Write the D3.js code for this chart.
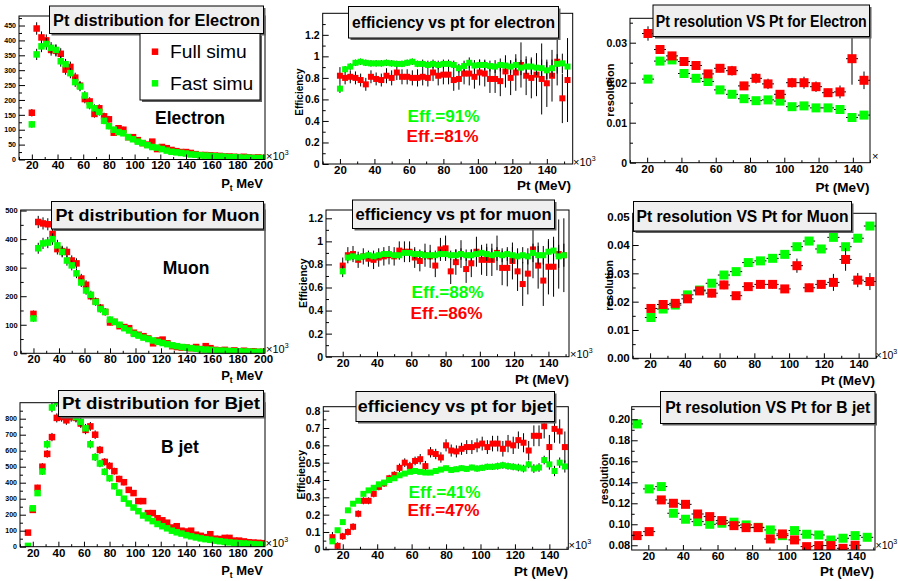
<!DOCTYPE html>
<html>
<head>
<meta charset="utf-8">
<script src="https://cdn.jsdelivr.net/npm/d3@7"></script>
<style>
  body { margin: 0; background: #fff; }
  svg { display: block; }
</style>
</head>
<body>
<div id="chart"></div>
<script>
// bin centres (x10^3 MeV)
var distCenters = d3.range(50).map(function(i) { return 16.25 + 3.75 * i; });
var effCenters = d3.range(47).map(function(i) { return 14 + 3 * i; });
var resCenters = d3.range(20).map(function(i) { return 13.5 + 7 * i; });

// Pt distributions (entries)
var elecDistFull = [157, 440, 410, 400, 368, 365, 355, 302, 311, 275, 248, 203, 195, 153, 172, 145, 135, 90, 105, 100,
  75, 75, 65, 55, 50, 60, 35, 42, 38, 32, 28, 25, 25, 22, 18, 15, 15, 14, 13, 12, 10, 10, 9, 8, 9, 7, 6, 7, 5];
var elecDistFast = [118, 353, 380, 388, 375, 368, 330, 320, 290, 260, 245, 215, 182, 172, 160, 130, 112, 100, 92, 88,
  75, 68, 60, 55, 48, 42, 40, 35, 30, 26, 24, 22, 20, 17, 16, 14, 13, 12, 11, 10, 9, 8, 8, 7, 6, 6, 5, 5, 5];
var muonDistFull = [138, 460, 455, 452, 418, 365, 358, 355, 325, 315, 262, 240, 200, 182, 160, 145, 108, 110, 95, 92,
  88, 72, 65, 60, 52, 35, 45, 48, 35, 25, 22, 20, 20, 18, 22, 15, 25, 18, 12, 10, 12, 8, 10, 7, 9, 6, 7, 5, 5];
var muonDistFast = [122, 368, 385, 388, 400, 378, 355, 325, 308, 280, 248, 220, 205, 180, 155, 145, 118, 110, 100, 88,
  80, 68, 62, 55, 50, 45, 40, 36, 32, 28, 25, 22, 20, 18, 16, 14, 13, 12, 10, 9, 9, 8, 7, 7, 6, 6, 5, 5, 5];
var bjetDistFull = [88, 230, 368, 500, 580, 685, 805, 810, 790, 810, 805, 770, 730, 752, 700, 605, 530, 505, 472, 423,
  403, 355, 335, 285, 285, 210, 210, 178, 165, 150, 120, 128, 100, 95, 100, 75, 68, 60, 78, 50,
  48, 55, 55, 38, 38, 33, 28, 26, 24, 22];
var bjetDistFast = [5, 240, 335, 470, 640, 870, 905, 880, 860, 840, 810, 780, 740, 640, 560, 520, 468, 428, 378, 338,
  300, 270, 245, 222, 195, 178, 160, 142, 128, 115, 100, 90, 82, 72, 65, 58, 52, 47, 43, 38,
  34, 30, 27, 24, 22, 20, 18, 16, 14, 12];

// efficiency vs pt
var elecEffFull = [0.82, 0.80, 0.81, 0.80, 0.78, 0.74, 0.81, 0.79, 0.78, 0.82, 0.80, 0.85, 0.81, 0.81, 0.80, 0.80,
  0.81, 0.80, 0.85, 0.82, 0.83, 0.83, 0.78, 0.79, 0.84, 0.84, 0.81, 0.85, 0.84, 0.79, 0.79, 0.77, 0.86, 0.80,
  0.85, 0.92, 0.82, 0.80, 0.83, 0.79, 0.75, 0.82, 0.95, 0.61, 0.78];
var elecEffFast = [0.70, 0.88, 0.905, 0.94, 0.95, 0.94, 0.935, 0.935, 0.935, 0.94, 0.935, 0.93, 0.93, 0.94, 0.95,
  0.93, 0.93, 0.92, 0.93, 0.92, 0.93, 0.93, 0.92, 0.89, 0.91, 0.94, 0.915, 0.92, 0.92, 0.91, 0.905, 0.92, 0.915,
  0.905, 0.92, 0.895, 0.905, 0.905, 0.895, 0.89, 0.87, 0.89, 0.93, 0.935, 0.905];
var elecEffFullErr = [0.08, 0.06, 0.06, 0.06, 0.06, 0.06, 0.06, 0.06, 0.06, 0.07, 0.07, 0.07, 0.07, 0.07, 0.07, 0.08,
  0.08, 0.08, 0.08, 0.09, 0.09, 0.09, 0.10, 0.10, 0.10, 0.11, 0.11, 0.12, 0.12, 0.13, 0.13, 0.14, 0.15, 0.16,
  0.17, 0.21, 0.18, 0.19, 0.20, 0.33, 0.22, 0.24, 0.22, 0.23, 0.39];
var elecEffFastErr = [0.04, 0.03, 0.03, 0.03, 0.03, 0.03, 0.03, 0.03, 0.03, 0.03, 0.03, 0.03, 0.03, 0.03, 0.03, 0.03,
  0.04, 0.04, 0.04, 0.04, 0.04, 0.04, 0.04, 0.04, 0.05, 0.05, 0.05, 0.05, 0.05, 0.05, 0.06, 0.06, 0.06, 0.06,
  0.06, 0.07, 0.07, 0.07, 0.07, 0.08, 0.08, 0.08, 0.09, 0.09, 0.10];
var muonEffFull = [0.79, 0.88, 0.89, 0.84, 0.87, 0.85, 0.84, 0.86, 0.87, 0.88, 0.87, 0.92, 0.91, 0.91, 0.86, 0.83,
  0.88, 0.87, 0.79, 0.93, 0.94, 0.74, 0.82, 0.89, 0.76, 0.81, 0.91, 0.84, 0.84, 0.84, 0.90, 0.77, 0.77, 0.83,
  0.74, 0.63, 0.72, 0.93, 0.79, 0.66, 0.78, 0.78, 0.89, 0.88];
var muonEffFast = [0.74, 0.86, 0.87, 0.86, 0.87, 0.88, 0.87, 0.88, 0.89, 0.89, 0.88, 0.88, 0.90, 0.90, 0.89, 0.89,
  0.88, 0.88, 0.88, 0.89, 0.89, 0.88, 0.88, 0.89, 0.88, 0.88, 0.89, 0.90, 0.89, 0.88, 0.89, 0.88, 0.89, 0.88,
  0.87, 0.88, 0.87, 0.90, 0.88, 0.88, 0.91, 0.92, 0.87, 0.88];
var muonEffFullErr = [0.07, 0.07, 0.07, 0.07, 0.07, 0.07, 0.08, 0.08, 0.08, 0.08, 0.08, 0.08, 0.09, 0.09, 0.09, 0.09,
  0.10, 0.10, 0.10, 0.10, 0.11, 0.11, 0.11, 0.12, 0.12, 0.12, 0.13, 0.13, 0.14, 0.14, 0.15, 0.15, 0.16, 0.16,
  0.17, 0.19, 0.18, 0.25, 0.20, 0.22, 0.24, 0.26, 0.30, 0.32];
var muonEffFastErr = [0.05, 0.03, 0.03, 0.03, 0.03, 0.03, 0.03, 0.03, 0.03, 0.03, 0.03, 0.03, 0.03, 0.04, 0.04, 0.04,
  0.04, 0.04, 0.04, 0.04, 0.04, 0.04, 0.05, 0.05, 0.05, 0.05, 0.05, 0.05, 0.06, 0.06, 0.06, 0.06, 0.06, 0.07,
  0.07, 0.07, 0.07, 0.08, 0.08, 0.08, 0.09, 0.09, 0.10, 0.10];
var bjetEffFull = [0.07, 0.02, 0.075, 0.10, 0.13, 0.205, 0.28, 0.28, 0.32, 0.36, 0.38, 0.41, 0.43, 0.47, 0.50, 0.48,
  0.51, 0.52, 0.48, 0.56, 0.55, 0.53, 0.60, 0.57, 0.565, 0.58, 0.59, 0.59, 0.60, 0.61, 0.59, 0.61, 0.61, 0.58,
  0.61, 0.60, 0.63, 0.615, 0.57, 0.655, 0.655, 0.71, 0.59, 0.695, 0.68, 0.59];
var bjetEffFast = [0.046, 0.11, 0.157, 0.225, 0.263, 0.28, 0.32, 0.34, 0.355, 0.375, 0.385, 0.40, 0.41, 0.427, 0.437,
  0.447, 0.452, 0.447, 0.443, 0.443, 0.452, 0.46, 0.468, 0.458, 0.462, 0.468, 0.464, 0.472, 0.466, 0.47, 0.476,
  0.476, 0.48, 0.485, 0.48, 0.476, 0.472, 0.466, 0.49, 0.466, 0.472, 0.515, 0.49, 0.452, 0.50, 0.478];
var bjetEffFullErr = [0.03, 0.02, 0.02, 0.02, 0.02, 0.02, 0.02, 0.02, 0.02, 0.02, 0.02, 0.02, 0.02, 0.025, 0.025,
  0.025, 0.025, 0.03, 0.03, 0.03, 0.03, 0.03, 0.035, 0.035, 0.035, 0.035, 0.04, 0.04, 0.04, 0.04, 0.04, 0.045,
  0.045, 0.045, 0.05, 0.05, 0.05, 0.055, 0.055, 0.06, 0.06, 0.07, 0.07, 0.08, 0.07, 0.09];
var bjetEffFastErr = [0.01, 0.01, 0.01, 0.01, 0.01, 0.01, 0.01, 0.01, 0.01, 0.01, 0.01, 0.01, 0.012, 0.012, 0.012,
  0.012, 0.012, 0.012, 0.014, 0.014, 0.014, 0.014, 0.014, 0.016, 0.016, 0.016, 0.016, 0.016, 0.018, 0.018, 0.018,
  0.018, 0.02, 0.02, 0.02, 0.02, 0.022, 0.022, 0.022, 0.025, 0.025, 0.025, 0.03, 0.03, 0.03, 0.035];

// Pt resolution vs pt
var elecResFull = [0.0323, 0.0283, 0.0267, 0.0253, 0.0243, 0.0222, 0.0236, 0.023, 0.0192, 0.0211, 0.0197, 0.0171,
  0.020, 0.020, 0.019, 0.0175, 0.0177, 0.026, 0.0206];
var elecResFast = [0.0209, 0.0254, 0.0257, 0.0223, 0.0211, 0.0203, 0.0182, 0.0171, 0.016, 0.0155, 0.0157, 0.0154,
  0.014, 0.0142, 0.0137, 0.0137, 0.0133, 0.0113, 0.0119];
var elecResFullErr = [0.0018, 0.001, 0.001, 0.001, 0.001, 0.0008, 0.001, 0.0012, 0.001, 0.0013, 0.0013, 0.0008,
  0.0012, 0.0015, 0.0013, 0.001, 0.0016, 0.0065, 0.0022];
var elecResFastErr = [0.0004, 0.0005, 0.0005, 0.0004, 0.0004, 0.0004, 0.0004, 0.0004, 0.0004, 0.0004, 0.0004,
  0.0004, 0.0005, 0.0005, 0.0005, 0.0005, 0.0005, 0.0006, 0.0006];
var muonResFull = [0.0176, 0.019, 0.0194, 0.021, 0.0238, 0.023, 0.0259, 0.0221, 0.0253, 0.0261, 0.0261, 0.0245,
  0.0327, 0.0249, 0.0261, 0.0268, 0.0349, 0.0276, 0.0271];
var muonResFast = [0.0144, 0.0174, 0.0188, 0.0224, 0.0241, 0.0265, 0.0294, 0.0306, 0.0338, 0.0344, 0.0353, 0.0367,
  0.0394, 0.0414, 0.0386, 0.0427, 0.0394, 0.0424, 0.0467];
var muonResFullErr = [0.0012, 0.001, 0.001, 0.0012, 0.001, 0.0015, 0.0015, 0.0012, 0.0012, 0.0015, 0.0015, 0.0012,
  0.0025, 0.0015, 0.0015, 0.003, 0.004, 0.0025, 0.003];
var muonResFastErr = [0.0006, 0.0006, 0.0006, 0.0006, 0.0006, 0.0006, 0.0007, 0.0007, 0.0007, 0.0007, 0.0007,
  0.0008, 0.0008, 0.0008, 0.0008, 0.0009, 0.0009, 0.001, 0.001];
var bjetResFull = [0.0892, 0.093, 0.1232, 0.120, 0.119, 0.1098, 0.1073, 0.1035, 0.0987, 0.0968, 0.0968, 0.086,
  0.0908, 0.0851, 0.0787, 0.0797, 0.0797, 0.0771, 0.080];
var bjetResFast = [0.1956, 0.1337, 0.1359, 0.1105, 0.1048, 0.1025, 0.100, 0.101, 0.102, 0.0994, 0.0971, 0.0946,
  0.0892, 0.094, 0.0905, 0.0898, 0.085, 0.0867, 0.0892, 0.0876];
var bjetResFullErr = [0.003, 0.003, 0.002, 0.002, 0.002, 0.002, 0.002, 0.002, 0.002, 0.002, 0.002, 0.002, 0.002,
  0.002, 0.002, 0.002, 0.002, 0.002, 0.002];
var bjetResFastErr = [0.004, 0.002, 0.002, 0.0015, 0.0015, 0.0015, 0.0015, 0.0015, 0.0015, 0.0015, 0.0015, 0.0015,
  0.0015, 0.0015, 0.0015, 0.0015, 0.0015, 0.0015, 0.0015, 0.0015];

// tick labels
var distXTicks = [20, 40, 60, 80, 100, 120, 140, 160, 180, 200];
var ptXTicks = [20, 40, 60, 80, 100, 120, 140];
var elecDistYTicks = [0, 50, 100, 150, 200, 250, 300, 350, 400, 450];
var muonDistYTicks = [0, 100, 200, 300, 400, 500];
var bjetDistYTicks = [0, 100, 200, 300, 400, 500, 600, 700, 800];
var effYTicks = [0, 0.2, 0.4, 0.6, 0.8, 1, 1.2];
var bjetEffYTicks = [0, 0.1, 0.2, 0.3, 0.4, 0.5, 0.6, 0.7, 0.8];
var elecResYTicks = [0, 0.01, 0.02, 0.03];
var muonResYTicks = [0, 0.01, 0.02, 0.03, 0.04, 0.05];
var bjetResYTicks = [0.08, 0.10, 0.12, 0.14, 0.16, 0.18, 0.20];

var FONT = "'Liberation Sans', Arial, Helvetica, sans-serif";
var RED = "#ff0000", GREEN = "#00ff00";

var svg = d3.select("#chart").append("svg")
    .attr("width", 898)
    .attr("height", 581)
    .style("font-family", FONT);
svg.append("rect").attr("width", 898).attr("height", 581).attr("fill", "#fff");

var panels = [
  { kind: "dist", l: 19, t: 16, r: 265, b: 159.5, xDom: [10, 201.5], yDom: [0, 482],
    xTicks: distXTicks, yTicks: elecDistYTicks, yFont: 7, yPad: 3, yFmt: d3.format("d"),
    centers: distCenters, start: 1, full: elecDistFull, fast: elecDistFast,
    title: "Pt distribution for Electron", box: [49.5, 6, 263.5, 33.5], tLen: 207,
    label: "Electron", labelAt: [155, 123.5], xTitle: "pt", xTitleAt: [263, 187.5], x10At: [266, 159.5], legend: true },
  { kind: "eff", l: 322.7, t: 13.3, r: 572.7, b: 164, xDom: [10, 155], yDom: [0, 1.4],
    xTicks: ptXTicks, yTicks: effYTicks, yFont: 10.5, yPad: 3, yFmt: d3.format("~g"),
    centers: effCenters, start: 2, full: elecEffFull, fast: elecEffFast, fullErr: elecEffFullErr, fastErr: elecEffFastErr,
    title: "efficiency vs pt for electron", box: [348.5, 6.5, 558.5, 38], tLen: 203,
    effFast: "Eff.=91%", effFull: "Eff.=81%", effAt: [407.5, 121.5, 141.5],
    yTitle: "Efficiency", yTitleAt: [302.5, 68.5], yTitleFont: 10,
    xTitle: "Pt (MeV)", xTitleAt: [571, 190], x10At: [573, 165.5] },
  { kind: "res", l: 630, t: 18.3, r: 870, b: 162.7, xDom: [10, 150], yDom: [0, 0.0361],
    xTicks: ptXTicks, yTicks: elecResYTicks, yFont: 10.5, yPad: 3, yFmt: d3.format("~g"),
    centers: resCenters, start: 1, full: elecResFull, fast: elecResFast, fullErr: elecResFullErr, fastErr: elecResFastErr,
    title: "Pt resolution VS Pt for Electron", box: [653, 5, 869.5, 36.5], tLen: 211,
    yTitle: "resolution", yTitleAt: [614, 63.5], yTitleFont: 11,
    xTitle: "Pt (MeV)", xTitleAt: [869.5, 191.5], x10At: [872, 160], x10Short: true },

  { kind: "dist", l: 20.7, t: 210, r: 265, b: 353.3, xDom: [10, 201.5], yDom: [0, 502],
    xTicks: distXTicks, yTicks: muonDistYTicks, yFont: 7.5, yPad: 3, yFmt: d3.format("d"),
    centers: distCenters, start: 1, full: muonDistFull, fast: muonDistFast,
    title: "Pt distribution for Muon", box: [51.5, 201.5, 263.5, 229], tLen: 204,
    label: "Muon", labelAt: [162.7, 274], xTitle: "pt", xTitleAt: [263, 380], x10At: [266, 352.5] },
  { kind: "eff", l: 326, t: 210, r: 569, b: 356.7, xDom: [10.25, 152], yDom: [0, 1.272],
    xTicks: ptXTicks, yTicks: effYTicks, yFont: 10.5, yPad: 3, yFmt: d3.format("~g"),
    centers: effCenters, start: 2, full: muonEffFull, fast: muonEffFast, fullErr: muonEffFullErr, fastErr: muonEffFastErr,
    title: "efficiency vs pt for muon", box: [352.5, 200, 554.5, 228.5], tLen: 196,
    effFast: "Eff.=88%", effFull: "Eff.=86%", effAt: [411.5, 297.5, 318.5],
    yTitle: "Efficiency", yTitleAt: [307, 258.5], yTitleFont: 10.5,
    xTitle: "Pt (MeV)", xTitleAt: [569, 383.5], x10At: [570, 357.5] },
  { kind: "res", l: 632.7, t: 213.3, r: 876, b: 358.3, xDom: [10, 150], yDom: [0, 0.0512],
    xTicks: ptXTicks, yTicks: muonResYTicks, yFont: 11.5, yPad: 3, yFmt: d3.format(".2f"),
    centers: resCenters, start: 1, full: muonResFull, fast: muonResFast, fullErr: muonResFullErr, fastErr: muonResFastErr,
    title: "Pt resolution VS Pt for Muon", box: [633.5, 201.5, 851.5, 231], tLen: 212,
    yTitle: "resolution", yTitleAt: [613, 260], yTitleFont: 10.5,
    xTitle: "Pt (MeV)", xTitleAt: [875, 384.5], x10At: [875.5, 358.5], x10Font: 10.5 },

  { kind: "dist", l: 20, t: 402.7, r: 265, b: 546.7, xDom: [10, 201.5], yDom: [0, 900],
    xTicks: distXTicks, yTicks: bjetDistYTicks, yFont: 7, yPad: 3, yFmt: d3.format("d"),
    centers: distCenters, start: 0, full: bjetDistFull, fast: bjetDistFast,
    title: "Pt distribution for Bjet", box: [58.5, 390.5, 263.5, 416.5], tLen: 198,
    label: "B jet", labelAt: [161, 452.7], xTitle: "pt", xTitleAt: [263, 575], x10At: [265.5, 546.5] },
  { kind: "eff", l: 323.3, t: 406.7, r: 568.3, b: 549.3, xDom: [8.7, 151], yDom: [0, 0.823],
    xTicks: ptXTicks, yTicks: bjetEffYTicks, yFont: 10.5, yPad: 3, yFmt: d3.format("~g"),
    centers: effCenters, start: 0, full: bjetEffFull, fast: bjetEffFast, fullErr: bjetEffFullErr, fastErr: bjetEffFastErr,
    title: "efficiency vs pt for bjet", box: [356, 391.5, 554.5, 421.5], tLen: 195,
    effFast: "Eff.=41%", effFull: "Eff.=47%", effAt: [408.5, 497.5, 515.5],
    yTitle: "Efficiency", yTitleAt: [304.5, 450], yTitleFont: 10.5,
    xTitle: "Pt (MeV)", xTitleAt: [568, 576], x10At: [568.5, 548.5] },
  { kind: "res", l: 631.7, t: 406.7, r: 875, b: 550, xDom: [10.4, 151], yDom: [0.0755, 0.212],
    xTicks: ptXTicks, yTicks: bjetResYTicks, yFont: 11, yPad: 1.5, yFmt: d3.format(".2f"),
    centers: resCenters, start: 0, full: bjetResFull, fast: bjetResFast, fullErr: bjetResFullErr, fastErr: bjetResFastErr,
    title: "Pt resolution VS Pt for B jet", box: [660.5, 391.5, 875, 423.5], tLen: 205,
    yTitle: "resolution", yTitleAt: [607.5, 453.5], yTitleFont: 10.5,
    xTitle: "Pt (MeV)", xTitleAt: [874, 576], x10At: [875.5, 548.5], x10Font: 10.5 }
];

// half-way minor ticks between the labelled ones
function minorTicks(ticks, dom) {
  var step = ticks[1] - ticks[0], out = [];
  for (var v = ticks[0] - step / 2; v <= dom[1]; v += step) {
    if (v >= dom[0]) out.push(v);
  }
  return out;
}

function shadowBox(g, x0, y0, x1, y1, fill) {
  g.append("rect").attr("x", x0 + 2).attr("y", y0 + 2).attr("width", x1 - x0).attr("height", y1 - y0)
    .attr("fill", "#606060");
  g.append("rect").attr("x", x0).attr("y", y0).attr("width", x1 - x0).attr("height", y1 - y0)
    .attr("fill", fill).attr("stroke", "#000").attr("stroke-width", 1);
}

function drawSeries(g, p, x, y, values, errs, color, size) {
  var pts = values.map(function(v, i) {
    var e = p.kind === "dist" ? Math.sqrt(v) : errs[i];
    return { x: p.centers[p.start + i], v: v, e: e };
  });
  g.append("g").selectAll("line")
    .data(pts).enter().append("line")
      .attr("x1", function(d) { return x(d.x); })
      .attr("x2", function(d) { return x(d.x); })
      .attr("y1", function(d) { return y(d.v - d.e); })
      .attr("y2", function(d) { return y(d.v + d.e); })
      .attr("stroke", "#000").attr("stroke-width", 1);
  if (p.kind === "res") {
    g.append("g").selectAll("line")
      .data(pts).enter().append("line")
        .attr("x1", function(d) { return x(d.x - 3.5); })
        .attr("x2", function(d) { return x(d.x + 3.5); })
        .attr("y1", function(d) { return y(d.v); })
        .attr("y2", function(d) { return y(d.v); })
        .attr("stroke", "#000").attr("stroke-width", 1);
  }
  g.append("g").selectAll("rect")
    .data(pts).enter().append("rect")
      .attr("x", function(d) { return x(d.x) - size / 2; })
      .attr("y", function(d) { return y(d.v) - size / 2; })
      .attr("width", size).attr("height", size)
      .attr("fill", color);
}

function drawPanel(p, idx) {
  var g = svg.append("g");
  var x = d3.scaleLinear().domain(p.xDom).range([p.l, p.r]);
  var y = d3.scaleLinear().domain(p.yDom).range([p.b, p.t]);

  g.append("clipPath").attr("id", "clip" + idx)
    .append("rect").attr("x", p.l).attr("y", p.t).attr("width", p.r - p.l).attr("height", p.b - p.t);

  var data = g.append("g").attr("clip-path", "url(#clip" + idx + ")");
  var size = p.kind === "dist" ? 6.5 : (p.kind === "eff" ? 6 : 9);
  if (p.kind === "res") {
    drawSeries(data, p, x, y, p.fast, p.fastErr, GREEN, size);
    drawSeries(data, p, x, y, p.full, p.fullErr, RED, size);
  } else {
    drawSeries(data, p, x, y, p.full, p.fullErr, RED, size);
    drawSeries(data, p, x, y, p.fast, p.fastErr, GREEN, size);
  }

  // frame
  g.append("rect").attr("x", p.l).attr("y", p.t).attr("width", p.r - p.l).attr("height", p.b - p.t)
    .attr("fill", "none").attr("stroke", "#000").attr("stroke-width", 1);

  // axes with inward ticks
  var xAxis = g.append("g").attr("transform", "translate(0," + p.b + ")")
    .call(d3.axisBottom(x).tickValues(p.xTicks).tickSizeInner(-5).tickSizeOuter(0).tickPadding(1.8)
      .tickFormat(d3.format("d")));
  xAxis.attr("font-family", FONT).attr("font-size", 11.5).attr("font-weight", "bold");
  xAxis.select(".domain").remove();
  g.append("g").attr("transform", "translate(0," + p.b + ")")
    .call(d3.axisBottom(x).tickValues(minorTicks(p.xTicks, p.xDom)).tickSize(-2.5).tickFormat(""))
    .select(".domain").remove();

  var yAxis = g.append("g").attr("transform", "translate(" + p.l + ",0)")
    .call(d3.axisLeft(y).tickValues(p.yTicks).tickSizeInner(-6).tickSizeOuter(0).tickPadding(p.yPad)
      .tickFormat(p.yFmt));
  yAxis.attr("font-family", FONT).attr("font-size", p.yFont).attr("font-weight", "bold");
  yAxis.select(".domain").remove();
  g.append("g").attr("transform", "translate(" + p.l + ",0)")
    .call(d3.axisLeft(y).tickValues(minorTicks(p.yTicks, p.yDom)).tickSize(-3).tickFormat(""))
    .select(".domain").remove();

  // x10^3 exponent
  var ex = g.append("text").attr("x", p.x10At[0]).attr("y", p.x10At[1])
    .attr("font-size", p.x10Font || 11).attr("fill", "#000");
  if (p.x10Short) {
    ex.text("\u00d7");
  } else {
    ex.text("\u00d710");
    ex.append("tspan").attr("dy", -5).attr("font-size", 7).text("3");
  }

  // axis titles
  var xt = g.append("text").attr("x", p.xTitleAt[0]).attr("y", p.xTitleAt[1])
    .attr("text-anchor", "end").attr("font-weight", "bold").attr("fill", "#000");
  if (p.xTitle === "pt") {
    xt.attr("font-size", 13);
    xt.append("tspan").text("P");
    xt.append("tspan").attr("font-size", 8.5).attr("dy", 3).text("t");
    xt.append("tspan").attr("dy", -3).text(" MeV");
  } else {
    xt.attr("font-size", 13.5).text(p.xTitle);
  }
  if (p.yTitle) {
    g.append("text")
      .attr("transform", "translate(" + p.yTitleAt[0] + "," + p.yTitleAt[1] + ") rotate(-90)")
      .attr("text-anchor", "end").attr("font-weight", "bold")
      .attr("font-size", p.yTitleFont).attr("fill", "#000")
      .text(p.yTitle);
  }

  // title pave
  var b = p.box;
  shadowBox(g, b[0], b[1], b[2], b[3], "#efefef");
  g.append("text")
    .attr("x", (b[0] + b[2]) / 2).attr("y", (b[1] + b[3]) / 2 + 5.8)
    .attr("text-anchor", "middle").attr("font-weight", "bold").attr("font-size", 16)
    .attr("textLength", p.tLen).attr("lengthAdjust", "spacingAndGlyphs")
    .attr("fill", "#000")
    .text(p.title);

  if (p.label) {
    g.append("text").attr("x", p.labelAt[0]).attr("y", p.labelAt[1])
      .attr("font-weight", "bold").attr("font-size", 17.5).attr("fill", "#000")
      .text(p.label);
  }
  if (p.effFast) {
    g.append("text").attr("x", p.effAt[0]).attr("y", p.effAt[1])
      .attr("font-weight", "bold").attr("font-size", 17.2).attr("fill", GREEN).text(p.effFast);
    g.append("text").attr("x", p.effAt[0] - 1).attr("y", p.effAt[2])
      .attr("font-weight", "bold").attr("font-size", 17.2).attr("fill", RED).text(p.effFull);
  }

  if (p.legend) {
    shadowBox(g, 140, 33.5, 260, 100, "#fff");
    var entries = [{ name: "Full simu", color: RED, y: 51.7 }, { name: "Fast simu", color: GREEN, y: 83.3 }];
    entries.forEach(function(e) {
      g.append("rect").attr("x", 155 - 3.25).attr("y", e.y - 3.25).attr("width", 6.5).attr("height", 6.5)
        .attr("fill", e.color);
      g.append("text").attr("x", 170).attr("y", e.y + 6.5)
        .attr("font-size", 19.2).attr("fill", "#000").text(e.name);
    });
  }
}

panels.forEach(drawPanel);
</script>
</body>
</html>
